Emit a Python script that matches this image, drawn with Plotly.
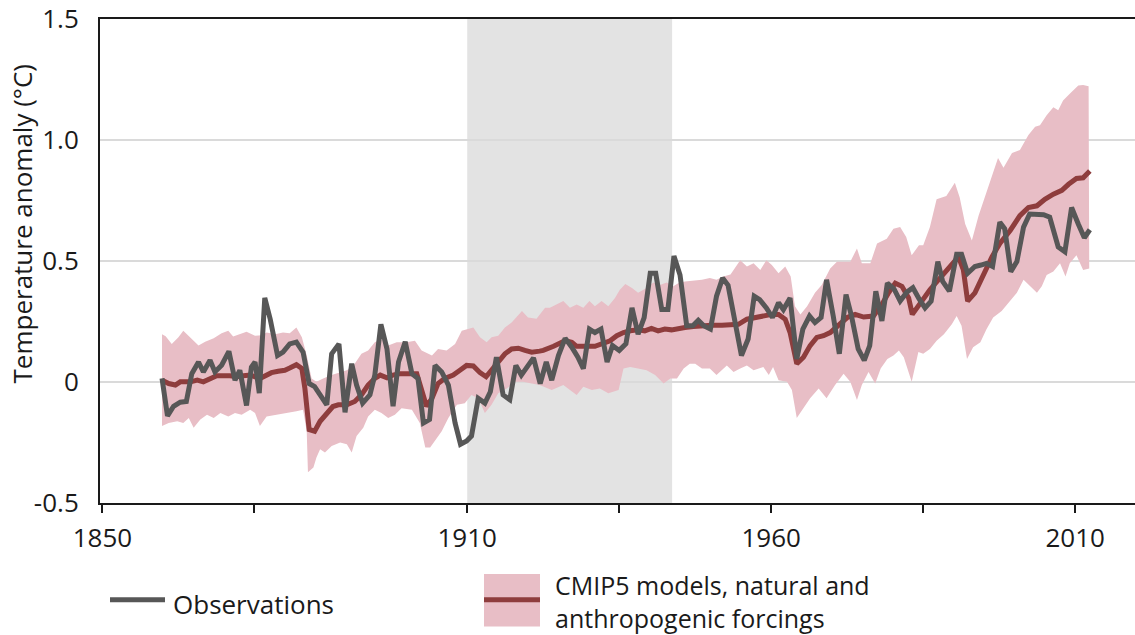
import plotly.graph_objects as go

# ---------------- data ----------------
obs_years = [1859.8, 1860.7, 1861.7, 1862.8, 1863.8, 1864.7, 1865.8, 1866.6, 1867.7, 1868.5,
             1869.6, 1870.8, 1871.8, 1872.6, 1873.7, 1874.5, 1875.1, 1875.8, 1876.7, 1877.6,
             1878.8, 1879.7, 1880.8, 1881.9, 1883.0, 1884.0, 1884.9, 1886.9, 1887.7, 1888.9,
             1889.9, 1891.0, 1891.8, 1892.8, 1894.0, 1894.8, 1895.8, 1896.8, 1897.8, 1898.7,
             1899.8, 1900.9, 1901.9, 1902.8, 1903.8, 1904.7, 1905.8, 1906.9, 1908.0, 1908.9,
             1909.9, 1910.7, 1911.8, 1912.9, 1913.8, 1914.8, 1915.9, 1917.0, 1918.0, 1918.9,
             1920.9, 1922.0, 1923.0, 1923.9, 1925.0, 1926.1, 1927.2, 1928.2, 1929.1, 1930.1,
             1931.0, 1932.0, 1933.0, 1933.9, 1935.0, 1936.1, 1937.1, 1938.1, 1939.1, 1940.1,
             1941.0, 1942.0, 1943.0, 1944.0, 1945.0, 1946.1, 1947.1, 1948.0, 1948.9, 1950.0,
             1951.0, 1952.0, 1952.9, 1954.0, 1955.1, 1956.2, 1957.2, 1958.1, 1959.2, 1960.2,
             1961.2, 1962.0, 1963.1, 1964.2, 1965.2, 1966.3, 1967.2, 1968.2, 1969.1, 1970.2,
             1971.2, 1972.3, 1973.2, 1974.3, 1975.3, 1976.2, 1977.2, 1978.2, 1979.1, 1980.2,
             1981.2, 1982.3, 1983.3, 1984.3, 1985.3, 1986.3, 1987.4, 1988.2, 1989.3, 1990.5,
             1991.3, 1992.3, 1993.5, 1994.5, 1995.4, 1996.4, 1997.6, 1998.4, 1999.4, 2000.4,
             2001.5, 2002.5, 2003.7, 2004.8, 2005.8, 2007.2, 2008.3, 2009.4, 2010.5, 2011.5,
             2012.4]
obs_values = [0.015, -0.14, -0.10, -0.083, -0.08, 0.035, 0.083, 0.042, 0.09, 0.042,
              0.07, 0.127, 0.008, 0.049, -0.097, 0.062, 0.083, -0.046, 0.348, 0.26,
              0.11, 0.124, 0.158, 0.165, 0.124, -0.006, -0.019, -0.094, 0.117, 0.158,
              -0.125, 0.076, -0.012, -0.087, -0.053, 0.029, 0.239, 0.137, -0.10, 0.083,
              0.167, 0.035, 0.015, -0.169, -0.155, 0.069, 0.042, -0.012, -0.169, -0.257,
              -0.244, -0.223, -0.067, -0.087, -0.040, 0.103, -0.053, -0.073, 0.069, 0.029,
              0.10, -0.006, 0.083, 0.008, 0.11, 0.181, 0.144, 0.103, 0.056, 0.219,
              0.205, 0.219, 0.083, 0.151, 0.131, 0.158, 0.307, 0.198, 0.267, 0.45,
              0.45, 0.30, 0.30, 0.521, 0.443, 0.233, 0.233, 0.256, 0.233, 0.219,
              0.355, 0.43, 0.40, 0.246, 0.11, 0.178, 0.355, 0.341, 0.307, 0.267,
              0.328, 0.30, 0.348, 0.096, 0.219, 0.273, 0.246, 0.267, 0.423, 0.273,
              0.117, 0.362, 0.273, 0.137, 0.09, 0.151, 0.376, 0.253, 0.409, 0.385,
              0.335, 0.372, 0.39, 0.345, 0.307, 0.335, 0.498, 0.416, 0.376, 0.529,
              0.529, 0.45, 0.478, 0.484, 0.491, 0.478, 0.661, 0.634, 0.457, 0.498,
              0.641, 0.695, 0.692, 0.692, 0.682, 0.559, 0.539, 0.722, 0.654, 0.597,
              0.63]

model_years = [1859.8, 1860.9, 1862.0, 1862.8, 1864.5, 1865.6, 1866.6, 1867.7, 1868.8, 1871.0,
               1872.1, 1873.2, 1874.3, 1875.9, 1877.0, 1877.8, 1878.9, 1880.0, 1880.8, 1881.9,
               1882.8, 1883.3, 1884.0, 1884.9, 1885.8, 1886.9, 1887.9, 1888.8, 1890.2, 1891.5,
               1892.6, 1893.7, 1894.8, 1895.7, 1896.8, 1897.8, 1898.9, 1901.7, 1902.5, 1903.3,
               1904.2, 1905.2, 1906.3, 1907.7, 1908.8, 1909.9, 1911.0, 1912.1, 1913.1, 1914.0,
               1915.1, 1916.2, 1917.3, 1918.4, 1919.5, 1920.6, 1921.9, 1922.5, 1924.2, 1926.1,
               1927.2, 1928.0, 1931.0, 1932.1, 1933.5, 1934.6, 1935.7, 1936.8, 1938.1, 1939.2,
               1940.3, 1941.4, 1942.5, 1943.6, 1944.7, 1945.8, 1947.2, 1948.8, 1950.2, 1951.9,
               1953.2, 1954.6, 1956.0, 1957.3, 1958.7, 1960.1, 1961.2, 1962.3, 1963.1, 1964.2,
               1965.3, 1966.4, 1967.5, 1968.6, 1969.7, 1971.1, 1972.5, 1973.8, 1975.2, 1976.8,
               1978.2, 1979.3, 1980.4, 1981.5, 1982.6, 1983.2, 1984.5, 1986.1, 1988.0, 1989.7,
               1990.8, 1991.6, 1992.3, 1993.5, 1994.9, 1996.3, 1997.6, 1999.3, 2000.9, 2002.3,
               2003.7, 2005.0, 2006.4, 2007.8, 2008.9, 2010.2, 2011.3, 2012.4]
model_mean = [0.008, -0.006, -0.012, 0.001, 0.001, 0.008, 0.001, 0.015, 0.026, 0.026,
              0.022, 0.026, 0.029, 0.015, 0.029, 0.039, 0.045, 0.049, 0.058, 0.072,
              0.056, -0.026, -0.196, -0.203, -0.162, -0.128, -0.101, -0.094, -0.094, -0.08,
              -0.053, -0.012, 0.015, 0.029, 0.018, 0.029, 0.035, 0.035, -0.04, -0.10,
              -0.067, -0.006, 0.015, 0.029, 0.049, 0.069, 0.067, 0.039, 0.022, 0.049,
              0.09, 0.117, 0.137, 0.14, 0.131, 0.124, 0.128, 0.131, 0.148, 0.171,
              0.165, 0.148, 0.148, 0.158, 0.171, 0.192, 0.205, 0.212, 0.216, 0.212,
              0.222, 0.212, 0.219, 0.216, 0.222, 0.226, 0.23, 0.235, 0.235, 0.235,
              0.235, 0.239, 0.26, 0.267, 0.273, 0.28, 0.28, 0.26, 0.205, 0.076,
              0.103, 0.151, 0.185, 0.192, 0.205, 0.239, 0.267, 0.28, 0.269, 0.273,
              0.321, 0.369, 0.409, 0.396, 0.348, 0.28, 0.328, 0.382, 0.437, 0.491,
              0.518, 0.464, 0.335, 0.369, 0.443, 0.518, 0.573, 0.627, 0.688, 0.722,
              0.729, 0.756, 0.777, 0.793, 0.818, 0.842, 0.845, 0.873]

upper_years = [1859.8, 1860.4, 1861.4, 1862.5, 1863.3, 1864.7, 1865.8, 1866.9, 1868.3, 1869.6,
               1870.7, 1871.5, 1872.6, 1873.7, 1875.1, 1876.2, 1877.0, 1878.4, 1879.7, 1880.8,
               1881.9, 1882.8, 1883.6, 1884.4, 1885.2, 1886.3, 1887.7, 1889.1, 1890.2, 1891.3,
               1892.6, 1893.7, 1894.8, 1895.9, 1897.0, 1898.4, 1900.0, 1901.4, 1902.5, 1904.2,
               1905.2, 1906.6, 1908.0, 1909.1, 1911.0, 1912.1, 1913.2, 1914.0, 1915.1, 1916.2,
               1917.3, 1919.0, 1920.0, 1921.4, 1922.8, 1923.6, 1924.7, 1925.8, 1926.9, 1928.0,
               1929.1, 1930.1, 1931.0, 1932.1, 1933.2, 1934.3, 1935.1, 1936.0, 1937.1, 1938.1,
               1939.5, 1940.6, 1941.7, 1942.8, 1943.9, 1944.7, 1945.8, 1947.2, 1948.6, 1949.9,
               1951.0, 1952.1, 1953.3, 1954.9, 1956.0, 1957.1, 1958.2, 1959.2, 1960.1, 1961.2,
               1962.3, 1963.2, 1963.9, 1964.8, 1965.9, 1967.2, 1968.3, 1969.7, 1970.8, 1971.9,
               1973.0, 1974.1, 1974.9, 1976.3, 1977.4, 1979.0, 1980.1, 1981.2, 1982.2, 1983.1,
               1984.3, 1985.0, 1986.1, 1987.2, 1988.8, 1990.2, 1991.0, 1991.9, 1993.0, 1994.1,
               1995.7, 1997.3, 1998.2, 1999.6, 2000.9, 2002.3, 2003.4, 2004.2, 2005.3, 2006.4,
               2007.2, 2008.0, 2009.1, 2010.5, 2011.3, 2012.2]
band_upper = [0.198, 0.19, 0.158, 0.185, 0.212, 0.178, 0.151, 0.167, 0.181, 0.202,
              0.212, 0.189, 0.198, 0.208, 0.192, 0.194, 0.205, 0.198, 0.205, 0.202,
              0.226, 0.185, 0.11, 0.015, 0.001, 0.015, 0.029, 0.042, 0.049, 0.069,
              0.117, 0.131, 0.165, 0.178, 0.151, 0.165, 0.165, 0.171, 0.131, 0.11,
              0.137, 0.131, 0.158, 0.212, 0.226, 0.185, 0.165, 0.185, 0.192, 0.226,
              0.246, 0.294, 0.267, 0.262, 0.307, 0.307, 0.321, 0.335, 0.307, 0.321,
              0.307, 0.335, 0.314, 0.335, 0.314, 0.348, 0.382, 0.406, 0.389, 0.369,
              0.389, 0.412, 0.402, 0.412, 0.396, 0.409, 0.416, 0.42, 0.423, 0.43,
              0.423, 0.437, 0.445, 0.504, 0.478, 0.491, 0.464, 0.504, 0.484, 0.45,
              0.478, 0.437, 0.314, 0.28, 0.314, 0.369, 0.402, 0.47, 0.498, 0.498,
              0.498, 0.552, 0.491, 0.491, 0.573, 0.593, 0.634, 0.641, 0.60, 0.525,
              0.566, 0.566, 0.641, 0.756, 0.77, 0.824, 0.763, 0.654, 0.586, 0.688,
              0.811, 0.927, 0.886, 0.947, 0.96, 1.022, 1.056, 1.062, 1.103, 1.137,
              1.124, 1.164, 1.192, 1.226, 1.229, 1.223]

lower_years = [1859.8, 1860.9, 1862.3, 1863.3, 1864.2, 1865.0, 1866.1, 1867.2, 1868.3, 1869.4,
               1870.7, 1871.8, 1872.9, 1874.3, 1875.1, 1875.9, 1877.0, 1878.7, 1880.3, 1881.9,
               1883.0, 1883.6, 1883.8, 1884.7, 1885.2, 1885.8, 1886.6, 1887.7, 1889.1, 1890.2,
               1891.0, 1891.8, 1892.9, 1893.7, 1894.8, 1895.9, 1897.0, 1898.1, 1899.2, 1900.9,
               1902.2, 1903.1, 1903.9, 1905.0, 1905.8, 1906.9, 1908.3, 1909.6, 1910.7, 1911.8,
               1912.9, 1914.0, 1915.1, 1916.5, 1917.9, 1919.2, 1920.6, 1921.9, 1923.9, 1925.8,
               1928.0, 1929.1, 1930.5, 1931.8, 1933.2, 1934.9, 1935.7, 1936.8, 1938.1, 1939.5,
               1940.9, 1942.3, 1943.4, 1944.5, 1945.6, 1946.6, 1947.5, 1948.6, 1949.9, 1951.0,
               1952.1, 1952.7, 1953.8, 1954.9, 1956.0, 1957.1, 1958.7, 1959.6, 1960.3, 1961.2,
               1962.6, 1963.4, 1964.2, 1965.3, 1966.4, 1967.8, 1969.1, 1970.5, 1971.9, 1973.0,
               1974.1, 1974.9, 1976.0, 1977.1, 1978.0, 1979.1, 1980.1, 1981.0, 1981.8, 1983.1,
               1984.2, 1985.0, 1986.1, 1987.2, 1988.4, 1989.7, 1990.5, 1991.3, 1992.2, 1993.2,
               1994.4, 1995.4, 1996.5, 1997.9, 1999.0, 2000.4, 2001.5, 2002.6, 2003.7, 2004.5,
               2005.3, 2006.4, 2007.5, 2008.4, 2009.1, 2010.2, 2011.3, 2012.3]
band_lower = [-0.182, -0.169, -0.162, -0.169, -0.149, -0.189, -0.155, -0.135, -0.149, -0.128,
              -0.142, -0.128, -0.135, -0.114, -0.128, -0.182, -0.142, -0.135, -0.128, -0.121,
              -0.114, -0.203, -0.373, -0.353, -0.312, -0.278, -0.291, -0.264, -0.25, -0.257,
              -0.291, -0.223, -0.189, -0.142, -0.114, -0.128, -0.149, -0.135, -0.108, -0.114,
              -0.169, -0.271, -0.271, -0.23, -0.203, -0.149, -0.094, -0.087, -0.053, -0.067,
              -0.128, -0.094, -0.046, -0.026, 0.001, 0.001, -0.006, -0.012, -0.033, -0.012,
              -0.053, -0.019, -0.033, -0.026, -0.046, -0.033, 0.056, 0.062, 0.056, 0.049,
              0.029, -0.006, 0.015, 0.015, 0.056, 0.076, 0.076, 0.056, 0.056, 0.029,
              0.056, 0.069, 0.042, 0.056, 0.069, 0.049, 0.062, 0.029, 0.062, 0.008,
              0.001, -0.033, -0.149, -0.108, -0.067, -0.026, -0.067, -0.012, 0.035, 0.001,
              -0.074, -0.012, 0.042, -0.006, 0.056, 0.096, 0.11, 0.131, 0.103, 0.001,
              0.124, 0.117, 0.137, 0.171, 0.198, 0.239, 0.273, 0.233, 0.096, 0.144,
              0.165, 0.219, 0.267, 0.294, 0.328, 0.369, 0.423, 0.396, 0.369, 0.396,
              0.443, 0.457, 0.491, 0.437, 0.491, 0.525, 0.464, 0.47]

highlight_period = [1910, 1943.7]
x_tick_vals = [1850, 1875, 1910, 1935, 1960, 1985, 2010]
x_tick_text = ["1850", "", "1910", "", "1960", "", "2010"]
y_tick_vals = [-0.5, 0, 0.5, 1.0, 1.5]
y_tick_text = ["-0.5", "0", "0.5", "1.0", "1.5"]

# ---------------- styling ----------------
W, H = 1135, 635
ML, MR, MT, MB = 100, 0, 13, 132
PW, PH = W - ML - MR, H - MT - MB
FONT = "Open Sans"
FS = 26
TXT = "#1a1a1a"
GREY_LINE = "#575757"
RED_LINE = "#8e3d3d"
PINK = "#e8bec6"


def px(x):
    return (x - ML) / PW


def py(y):
    return (H - MB - y) / PH


fig = go.Figure()

band_x = upper_years + lower_years[::-1]
band_y = band_upper + band_lower[::-1]
fig.add_trace(go.Scatter(x=band_x, y=band_y, fill="toself", fillcolor=PINK,
                         line=dict(width=0), mode="lines", hoverinfo="skip",
                         showlegend=False))
fig.add_trace(go.Scatter(x=model_years, y=model_mean, mode="lines",
                         line=dict(color=RED_LINE, width=5), showlegend=False,
                         name="CMIP5 models, natural and anthropogenic forcings"))
fig.add_trace(go.Scatter(x=obs_years, y=obs_values, mode="lines",
                         line=dict(color=GREY_LINE, width=5), showlegend=False,
                         name="Observations"))

shapes = [
    dict(type="rect", xref="x", yref="paper", x0=highlight_period[0], x1=highlight_period[1],
         y0=0, y1=1, fillcolor="#e3e3e3", line=dict(width=0), layer="below"),
    # legend symbols
    dict(type="line", xref="paper", yref="paper", x0=px(110), x1=px(165), y0=py(601), y1=py(601),
         line=dict(color=GREY_LINE, width=5)),
    dict(type="rect", xref="paper", yref="paper", x0=px(484), x1=px(540), y0=py(628), y1=py(575),
         fillcolor=PINK, line=dict(width=0)),
    dict(type="line", xref="paper", yref="paper", x0=px(484), x1=px(540), y0=py(601), y1=py(601),
         line=dict(color=RED_LINE, width=5)),
]

annotations = [
    dict(text="Temperature anomaly (°C)", xref="paper", yref="paper", x=px(22), y=py(220),
         textangle=-90, showarrow=False, xanchor="center", yanchor="middle",
         font=dict(family=FONT, size=FS, color=TXT)),
    dict(text="Observations", xref="paper", yref="paper", x=px(171), y=py(605),
         showarrow=False, xanchor="left", yanchor="middle",
         font=dict(family=FONT, size=FS, color=TXT)),
    dict(text="CMIP5 models, natural and<br>anthropogenic forcings", xref="paper", yref="paper",
         x=px(554), y=py(603), showarrow=False, xanchor="left", yanchor="middle", align="left",
         borderpad=0, font=dict(family=FONT, size=25, color=TXT)),
]

fig.update_layout(
    width=W, height=H,
    margin=dict(l=ML, r=MR, t=MT, b=MB),
    paper_bgcolor="white", plot_bgcolor="white",
    font=dict(family=FONT, size=FS, color=TXT),
    shapes=shapes, annotations=annotations, showlegend=False,
)
fig.update_xaxes(range=[1849.6, 2019.83], tickvals=x_tick_vals, ticktext=x_tick_text,
                 ticks="outside", ticklen=8, tickwidth=2, tickcolor=TXT,
                 showline=True, linecolor=TXT, linewidth=2, mirror=True,
                 showgrid=False, zeroline=False, ticklabelstandoff=3)
fig.update_yaxes(range=[-0.5, 1.5015], tickvals=y_tick_vals, ticktext=y_tick_text,
                 ticks="", showline=True, linecolor=TXT, linewidth=2,
                 showgrid=True, gridcolor="#dadada", gridwidth=1.5, zeroline=False,
                 ticklabelstandoff=14, ticklabeloverflow="allow")

fig.write_html("out.html", config={"displayModeBar": False},
               post_script="document.body.style.margin='0';document.body.style.overflow='hidden';")
